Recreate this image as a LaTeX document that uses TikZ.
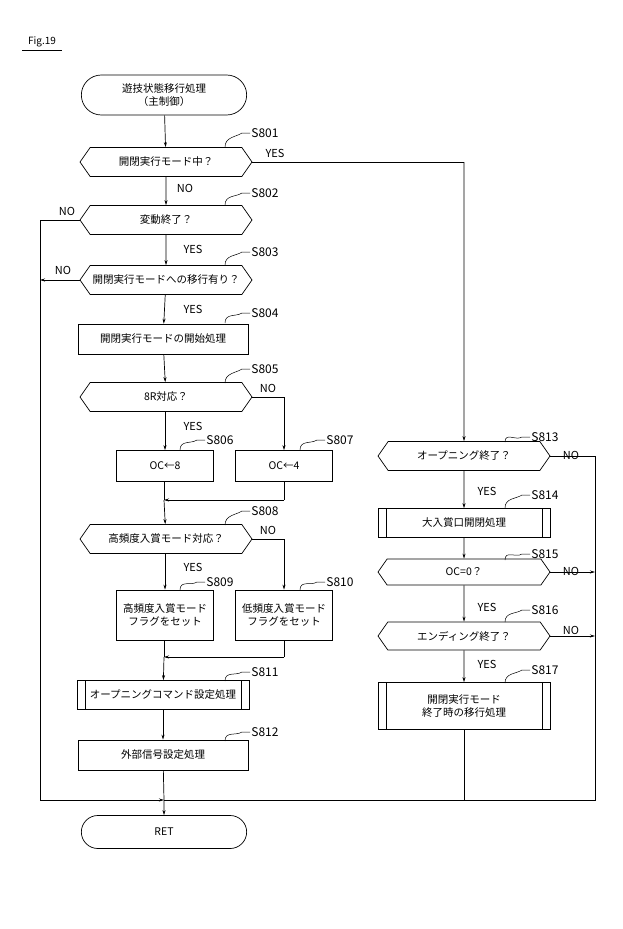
\documentclass[tikz,border=0pt]{standalone}
\usepackage{fontspec}
\setmainfont{Noto Sans CJK JP}
\usetikzlibrary{shapes.symbols,shapes.misc,arrows.meta}
\begin{document}
\begin{tikzpicture}[x=1pt,y=-1pt,line width=0.7pt,
  every node/.style={font=\fontsize{10.5}{13}\selectfont},
  term/.style={draw,rounded rectangle,minimum width=172,minimum height=40,align=center},
  dec/.style={draw,signal,signal to=west and east,signal pointer angle=110,minimum width=172,minimum height=29,inner xsep=2pt},
  proc/.style={draw,rectangle,minimum width=170,minimum height=30,align=center},
  sproc/.style={draw,rectangle,minimum width=97,minimum height=31,align=center},
  pred/.style={draw,rectangle,minimum width=172,minimum height=29,align=center,
    path picture={\draw ([xshift=8]path picture bounding box.north west)--([xshift=8]path picture bounding box.south west);
                  \draw ([xshift=-8]path picture bounding box.north east)--([xshift=-8]path picture bounding box.south east);}},
  lab/.style={anchor=west,font=\fontsize{12}{13}\selectfont,inner sep=1pt},
  yn/.style={font=\fontsize{11}{12}\selectfont,inner sep=1pt},
  arr/.style={-{Stealth[length=5pt,width=3pt]}},
  tl/.style={line width=0.5pt}]
\useasboundingbox (0,0) rectangle (622,929);
\node[font=\itshape\fontsize{10}{12}\selectfont] (fig) at (42,42) {Fig.19};
\draw[line width=0.4pt] (22,50)--(62,50);
% left column
\node[term] (start) at (164,95) {遊技状態移行処理\\（主制御）};
\node[dec] (s801) at (166,162) {開閉実行モード中？};
\node[dec] (s802) at (166,220) {変動終了？};
\node[dec] (s803) at (166,280) {開閉実行モードへの移行有り？};
\node[proc] (s804) at (163,339) {開閉実行モードの開始処理};
\node[dec] (s805) at (166,397) {8R対応？};
\node[sproc] (s806) at (165,466) {OC←8};
\node[sproc] (s807) at (284,466) {OC←4};
\coordinate (m1) at (164,500);
\coordinate (m1r) at (284,500);
\node[dec] (s808) at (166,539) {高頻度入賞モード対応？};
\node[sproc,minimum height=50] (s809) at (165,615) {高頻度入賞モード\\フラグをセット};
\node[sproc,minimum height=50] (s810) at (284,615) {低頻度入賞モード\\フラグをセット};
\coordinate (m2) at (164,657);
\coordinate (m2r) at (284,657);
\node[pred] (s811) at (163,695) {オープニングコマンド設定処理};
\node[proc] (s812) at (163,755) {外部信号設定処理};
\coordinate (m3) at (164,800);
\node[term,minimum height=33] (ret) at (164,832) {RET};
% right column
\node[dec] (s813) at (464,456) {オープニング終了？};
\node[pred] (s814) at (464,523) {大入賞口開閉処理};
\node[dec,minimum height=26] (s815) at (464,572) {OC=0？};
\node[dec,minimum height=28] (s816) at (464,636) {エンディング終了？};
\node[pred,minimum height=47] (s817) at (464,706) {開閉実行モード\\終了時の移行処理};
\coordinate (c801) at (464,162);
\coordinate (lx1) at (40,220);
\coordinate (lx2) at (40,280);
\coordinate (lb) at (40,800);
\coordinate (r813) at (595,456);
\coordinate (r815) at (595,572);
\coordinate (r816) at (595,636);
\coordinate (rb) at (595,800);
\coordinate (b817) at (464,800);
\coordinate (n805) at (284,397);
\coordinate (n808) at (284,539);
% flow
\draw[arr] (start) -- (s801);
\draw[arr] (s801) -- (s802);
\draw[arr] (s802) -- (s803);
\draw[arr] (s803) -- (s804);
\draw[arr] (s804) -- (s805);
\draw[arr] (s805.south -| s806) -- (s806);
\draw (s805.east) -- (n805);
\draw[arr] (n805) -- (s807);
\draw (s806.south -| m1) -- (m1);
\draw[arr] (m1) -- (s808);
\draw (s807) -- (m1r);
\draw[arr] (m1r) -- (m1);
\draw[arr] (s808.south -| s809) -- (s809);
\draw (s808.east) -- (n808);
\draw[arr] (n808) -- (s810);
\draw (s809.south -| m2) -- (m2);
\draw[arr] (m2) -- (s811);
\draw (s810) -- (m2r);
\draw[arr] (m2r) -- (m2);
\draw[arr] (s811) -- (s812);
\draw (s812) -- (m3);
\draw[arr] (m3) -- (ret);
\draw (s802.west) -- (lx1) -- (lb);
\draw[arr] (s803.west) -- (lx2);
\draw[arr] (lb) -- (m3);
\draw (s801.east) -- (c801);
\draw[arr] (c801) -- (s813);
\draw[arr] (s813) -- (s814);
\draw[arr] (s814) -- (s815);
\draw[arr] (s815) -- (s816);
\draw[arr] (s816) -- (s817);
\draw (s817) -- (b817);
\draw (s813.east) -- (r813) -- (rb) -- (b817);
\draw (b817) -- (m3);
\draw[arr] (s815.east) -- (r815);
\draw[arr] (s816.east) -- (r816);
% yes/no
\node[yn] (y801) at (275,153) {YES};
\node[yn] (n801) at (185,188) {NO};
\node[yn] (n802) at (67,211) {NO};
\node[yn] (y802) at (193,249) {YES};
\node[yn] (n803) at (63,270) {NO};
\node[yn] (y803) at (193,309) {YES};
\node[yn] (n8051) at (268,388) {NO};
\node[yn] (y805) at (193,426) {YES};
\node[yn] (n8081) at (268,530) {NO};
\node[yn] (y808) at (193,567) {YES};
\node[yn] (n813) at (571,455) {NO};
\node[yn] (y813) at (487,491) {YES};
\node[yn] (n815) at (571,571) {NO};
\node[yn] (y815) at (487,607) {YES};
\node[yn] (n816) at (571,630) {NO};
\node[yn] (y816) at (487,664) {YES};
% step labels
\foreach \n/\t/\px/\py/\lx/\ly in {s801/S801/225/147/250/133, s802/S802/225/205/250/193, s803/S803/225/265/250/252, s804/S804/225/323/250/313, s805/S805/225/383/250/369, s806/S806/180/450/205/440, s807/S807/300/450/325/440, s808/S808/225/525/250/511, s809/S809/180/590/205/582, s810/S810/300/590/325/582, s811/S811/225/681/250/672, s812/S812/225/741/250/732, s813/S813/505/442/530/437, s814/S814/505/508/530/495, s815/S815/505/560/530/554, s816/S816/505/622/530/610, s817/S817/505/683/530/670}{
  \node[lab] (l\n) at (\lx,\ly) {\t};
  \draw[tl] (\px,\py) .. controls (\px,\py-10) and (\lx-14,\ly+4) .. (\lx-8,\ly) -- (l\n.west);
}
\end{tikzpicture}
\end{document}
